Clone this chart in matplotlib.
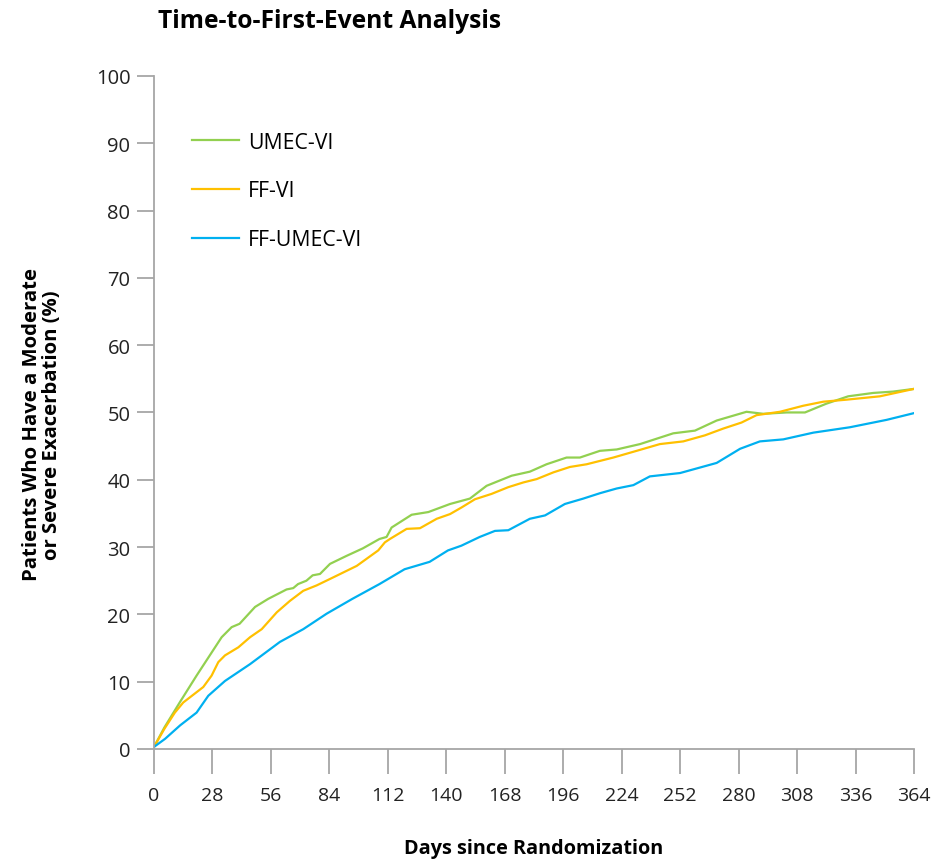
import matplotlib.pyplot as plt

# Kaplan-Meier style cumulative incidence, read as (day, %) pairs
umec_days = [0, 5, 12.5, 20.4, 32.4, 37.2, 41, 48.4, 54.7, 63.5, 66.7, 69, 73, 76, 79.5,
             84.3, 92.3, 100, 108, 111.4, 113.8, 123.4, 131.4, 141.8, 151.3, 159.3, 171.3,
             180, 188, 197.6, 204, 213.6, 221.6, 232.8, 248.7, 259.1, 269.5, 283.8, 291.8,
             303, 311.8, 322, 332.5, 344.5, 354, 364]
umec_vals = [0.3, 3.2, 7.0, 10.9, 16.6, 18.1, 18.6, 21.1, 22.3, 23.7, 23.9, 24.5, 25.0, 25.8, 26.0,
             27.5, 28.7, 29.8, 31.2, 31.5, 32.9, 34.8, 35.2, 36.4, 37.2, 39.1, 40.6,
             41.2, 42.3, 43.3, 43.3, 44.3, 44.5, 45.3, 46.9, 47.3, 48.8, 50.1, 49.8,
             50.0, 50.0, 51.3, 52.4, 52.9, 53.1, 53.5]

ff_days = [0, 5, 10, 14, 23.6, 27.6, 30.8, 34, 40.4, 46, 51.6, 58.8, 65.1, 71.5, 77.9, 85.9,
           97.1, 107.4, 110.6, 113, 121, 127.4, 135.4, 141.8, 147.4, 153.7, 161.7, 169.7,
           176.9, 183.3, 191.3, 199.2, 207.2, 220, 231.2, 242.3, 253.5, 263.9, 272.6, 281.4,
           288.6, 299.8, 311, 320.6, 331.7, 347.7, 364]
ff_vals = [0.3, 3.0, 5.4, 6.9, 9.2, 10.9, 12.9, 13.9, 15.1, 16.6, 17.8, 20.3, 22.0, 23.5, 24.3, 25.5,
           27.2, 29.5, 30.7, 31.2, 32.7, 32.8, 34.2, 34.9, 35.9, 37.1, 37.9, 38.9,
           39.6, 40.1, 41.1, 41.9, 42.3, 43.3, 44.3, 45.3, 45.7, 46.6, 47.6, 48.5,
           49.6, 50.1, 51.0, 51.6, 51.9, 52.4, 53.5]

triple_days = [0, 5.3, 12.5, 20.4, 26, 34, 46, 60.3, 71.5, 82.7, 95, 108, 120, 132, 140.8,
               147.2, 156, 163.3, 169.7, 180, 187.3, 196.8, 205.6, 213.6, 221.6, 229.6, 237.5,
               252, 269.5, 280.7, 290.2, 301.4, 315.8, 333.3, 350.9, 364]
triple_vals = [0.3, 1.5, 3.5, 5.4, 7.9, 10.1, 12.6, 15.9, 17.8, 20.1, 22.3, 24.5, 26.7, 27.8, 29.5,
               30.2, 31.5, 32.4, 32.5, 34.2, 34.7, 36.4, 37.2, 38.0, 38.7, 39.2, 40.5,
               41.0, 42.5, 44.6, 45.7, 46.0, 47.0, 47.8, 48.9, 49.9]

x_ticks = list(range(0, 365, 28))
y_ticks = list(range(0, 101, 10))

grey = "#a6a6a6"
ink = "#222222"

fig = plt.figure(figsize=(9.35, 8.62), dpi=100)
ax = fig.add_axes([0.1647, 0.130, 0.8128, 0.7807])

ax.plot(umec_days, umec_vals, color="#92d050", lw=1.6, label="UMEC-VI")
ax.plot(ff_days, ff_vals, color="#ffc000", lw=1.6, label="FF-VI")
ax.plot(triple_days, triple_vals, color="#00b0f0", lw=1.6, label="FF-UMEC-VI")

ax.set_xlim(0, 364)
ax.set_ylim(0, 100)
ax.set_xticks(x_ticks)
ax.set_yticks(y_ticks)

for side in ["top", "right"]:
    ax.spines[side].set_visible(False)
for side in ["left", "bottom"]:
    ax.spines[side].set_color(grey)
    ax.spines[side].set_linewidth(1.3)

ax.tick_params(axis="x", length=18, width=1.3, color=grey, pad=9,
               labelsize=14, labelcolor=ink)
ax.tick_params(axis="y", length=12, width=1.3, color=grey, pad=5,
               labelsize=14.5, labelcolor=ink)
for lbl in ax.get_xticklabels() + ax.get_yticklabels():
    lbl.set_fontfamily("Open Sans")

ax.set_xlabel("Days since Randomization", fontsize=14.3, fontweight="bold",
              family="Open Sans", labelpad=24)
ax.set_ylabel("Patients Who Have a Moderate\nor Severe Exacerbation (%)", fontsize=14.6,
              fontweight="bold", family="Open Sans", linespacing=1.0)
ax.yaxis.set_label_coords(-0.121, 0.483)

fig.text(158 / 935, 1 - 21 / 862, "Time-to-First-Event Analysis", fontsize=17.7,
         fontweight="bold", family="Open Sans", va="center", ha="left")

ax.legend(loc="upper left", bbox_to_anchor=(0.05, 0.917), frameon=False,
          borderpad=0, borderaxespad=0, handlelength=2.2, handletextpad=0.45,
          labelspacing=1.3, prop={"family": "Open Sans", "size": 15.3})

fig.savefig("out.png", dpi=100)
